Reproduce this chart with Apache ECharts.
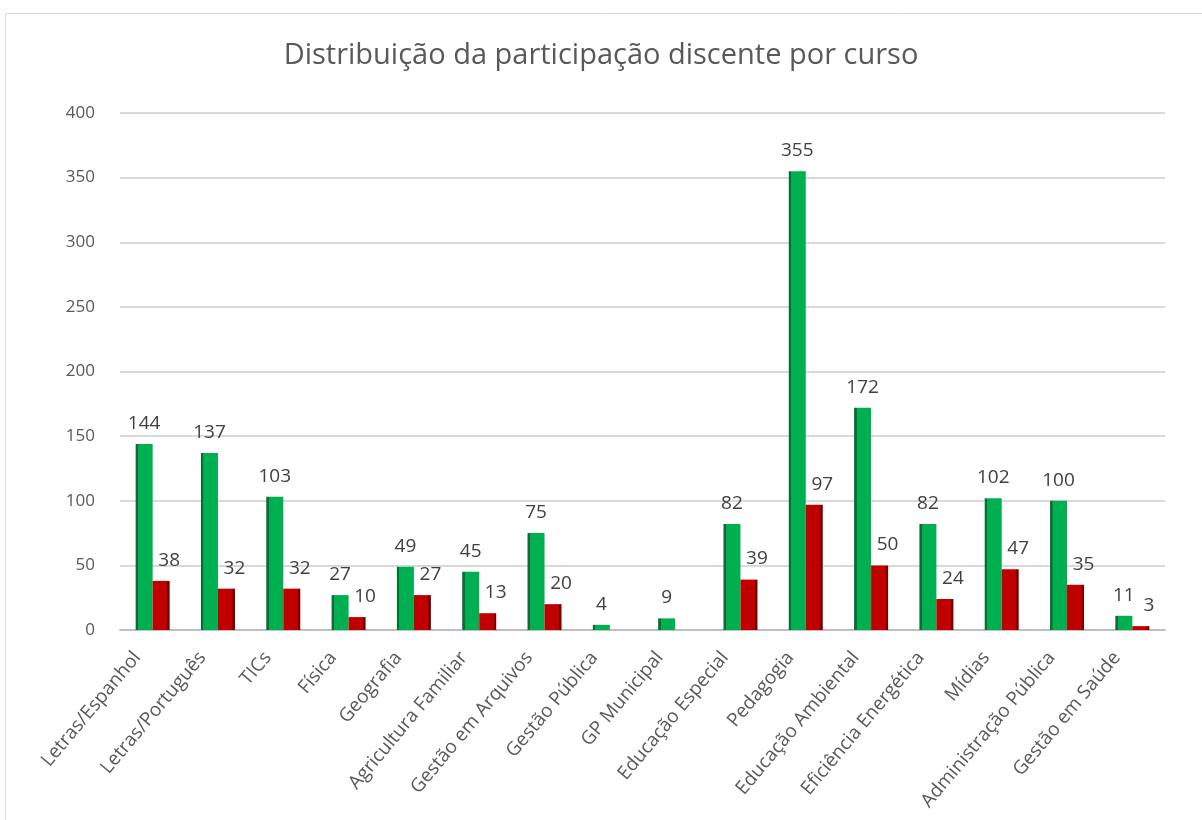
<!DOCTYPE html>
<html>
<head>
<meta charset="utf-8">
<script src="https://cdn.jsdelivr.net/npm/echarts@6/dist/echarts.min.js"></script>
<style>
  html, body { margin: 0; padding: 0; background: #fff; }
  #chart { width: 1202px; height: 820px; }
</style>
</head>
<body>
<div id="chart"></div>
<script>
// cursos
var cursos = ['Letras/Espanhol', 'Letras/Português', 'TICs', 'Física', 'Geografia',
  'Agricultura Familiar', 'Gestão em Arquivos', 'Gestão Pública', 'GP Municipal',
  'Educação Especial', 'Pedagogia', 'Educação Ambiental', 'Eficiência Energética',
  'Mídias', 'Administração Pública', 'Gestão em Saúde'];
// série verde
var verde = [144, 137, 103, 27, 49, 45, 75, 4, 9, 82, 355, 172, 82, 102, 100, 11];
// série vermelha (sem valor em Gestão Pública e GP Municipal)
var vermelho = [38, 32, 32, 10, 27, 13, 20, null, null, 39, 97, 50, 24, 47, 35, 3];

var myChart = echarts.init(document.getElementById('chart'));

// cor com borda escura para imitar o efeito 3D
var corVerde = new echarts.graphic.LinearGradient(0, 0, 1, 0, [
  { offset: 0, color: '#0b6a35' },
  { offset: 0.14, color: '#0b6a35' },
  { offset: 0.15, color: '#00b050' },
  { offset: 1, color: '#00b050' }
]);
var corVermelho = new echarts.graphic.LinearGradient(0, 0, 1, 0, [
  { offset: 0, color: '#c00000' },
  { offset: 0.85, color: '#c00000' },
  { offset: 0.86, color: '#7a0000' },
  { offset: 1, color: '#7a0000' }
]);

myChart.setOption({
  backgroundColor: '#fff',
  textStyle: { fontFamily: 'Open Sans' },
  graphic: [{
    type: 'rect',
    shape: { x: 5.5, y: 13.5, width: 1210, height: 820 },
    style: { fill: 'none', stroke: '#d9d9d9', lineWidth: 1 },
    silent: true
  }],
  title: {
    text: 'Distribuição da participação discente por curso',
    left: 'center',
    top: 36,
    textStyle: { color: '#595959', fontSize: 29, fontWeight: 'normal' }
  },
  grid: { left: 120, right: 37, top: 113, bottom: 190 },
  xAxis: {
    type: 'category',
    data: cursos,
    axisLine: { lineStyle: { color: '#bfbfbf', width: 2 } },
    axisTick: { show: false },
    axisLabel: {
      rotate: 50,
      interval: 0,
      margin: 6,
      padding: [0, 24, 0, 0],
      color: '#595959',
      fontSize: 19
    }
  },
  yAxis: {
    type: 'value',
    min: 0,
    max: 400,
    interval: 50,
    axisLine: { show: false },
    axisTick: { show: false },
    axisLabel: { color: '#595959', fontSize: 17, margin: 25 },
    splitLine: { lineStyle: { color: '#d9d9d9', width: 2 } }
  },
  series: [{
    name: 'verde',
    type: 'bar',
    data: verde,
    barWidth: 17,
    barGap: '0%',
    itemStyle: { color: corVerde },
    label: {
      show: true,
      position: 'top',
      distance: 11,
      color: '#404040',
      fontSize: 19
    }
  }, {
    name: 'vermelho',
    type: 'bar',
    data: vermelho,
    barWidth: 17,
    itemStyle: { color: corVermelho },
    label: {
      show: true,
      position: 'top',
      distance: 11,
      offset: [8, 0],
      color: '#404040',
      fontSize: 19
    }
  }]
});
</script>
</body>
</html>
